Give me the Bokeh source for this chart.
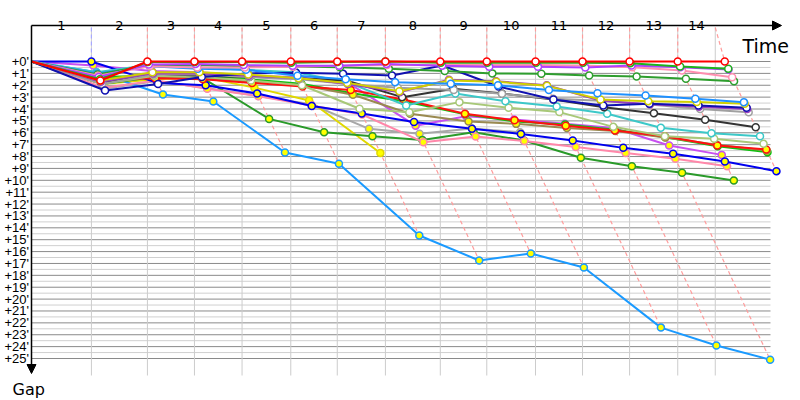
from bokeh.plotting import figure
from bokeh.models import Range1d, Arrow, NormalHead
from bokeh.embed import file_html
from bokeh.resources import INLINE
from bokeh.core.properties import value

# ---------------- data ----------------
lap_names = ["1", "2", "3", "4", "5", "6", "7", "8", "9", "10", "11", "12", "13", "14"]
# leader's cumulative time at end of each lap (minutes)
leader_time = [10.7, 20.7, 29.1, 37.6, 46.3, 54.6, 63.2, 73.0, 81.3, 90.0, 98.4, 106.8, 115.4, 123.8]
# vertical grid / lap boundary ticks (minutes)
lap_ticks = [10.7, 20.7, 29.1, 37.6, 46.3, 54.6, 63.2, 73.0, 81.3, 90.0, 98.4, 106.8, 115.4, 122.1]
gap_ticks = list(range(0, 26))
gap_labels = ["+%d'" % g for g in gap_ticks]

# gap to leader (minutes) at the end of each lap
red_gaps = [1.6, 0, 0, 0, 0, 0, 0, 0, 0, 0, 0, 0, 0, 0]
green1_gaps = [1.5, 0.05, 0.05, 0.05, 0.1, 0.05, 0.0, 0.1, 0.1, 0.1, 0.1, 0.14, 0.42, 0.62]
violet_gaps = [1.3, 0.25, 0.2, 0.3, 0.35, 0.35, 0.2, 0.35, 0.45, 0.45, 0.5, 0.34, 0.48, 0.67]
pink_gaps = [1.2, 0.4, 0.5, 0.5, 0.45, 0.35, 0.3, 0.3, 0.3, 0.3, 0.34, 0.48, 0.76, 1.32]
green2_gaps = [1.1, 0.3, 0.3, 0.4, 0.42, 0.48, 0.62, 0.8, 1.0, 1.04, 1.18, 1.26, 1.46, 1.66]
dodger_gaps = [1.0, 0.4, 0.6, 0.7, 1.2, 1.5, 1.74, 1.88, 2.0, 2.4, 2.67, 2.86, 3.14, 3.42]
khaki_gaps = [1.6, 0.9, 0.9, 1.1, 1.4, 1.8, 2.5, 1.6, 1.7, 2.05, 3.2, 3.34, 3.4, 3.56]
navy_gaps = [2.44, 1.9, 1.3, 1.0, 0.95, 1.04, 1.18, 0.34, 2.1, 3.2, 3.7, 3.55, 3.7, 3.9]
purple_gaps = [1.7, 1.0, 1.0, 1.2, 1.4, 1.9, 2.58, 1.54, 1.66, 2.0, 3.3, 3.6, 3.8, 4.0]
gray_gaps = [1.9, 1.1, 1.1, 1.3, 1.5, 1.9, 2.2, 2.4, 2.72, 3.14, 3.3, 3.62, 4.0, 4.27]
black_gaps = [1.8, 1.0, 1.2, 1.3, 1.4, 1.6, 3.0, 2.3, 2.7, 3.2, 3.85, 4.35, 4.9, 5.53]
cyan_gaps = [0.9, 0.3, 0.5, 0.7, 0.9, 1.74, 3.7, 2.7, 3.34, 3.79, 4.4, 5.58, 6.03, 6.29]
lightgreen_gaps = [1.9, 1.2, 1.3, 1.6, 2.0, 3.98, 4.27, 3.42, 3.9, 4.26, 5.5, 6.3, 6.5, 6.93]
red2_gaps = [1.5, 1.4, 1.5, 1.8, 2.1, 2.4, 3.2, 4.4, 4.95, 5.4, 5.8, 6.3, 7.07, 7.4]
olive_gaps = [1.8, 1.3, 1.4, 1.7, 2.0, 2.8, 4.4, 5.05, 5.25, 5.6, 5.85, 6.4, 7.0, 7.5]
green3_gaps = [1.3, 1.2, 1.2, 1.5, 1.88, 2.67, 3.34, 4.45, 5.05, 5.3, 5.75, 6.37, 7.13, 7.63]
blue_gaps = [0.0, 1.8, 2.0, 2.7, 3.75, 4.38, 5.1, 5.67, 6.1, 6.65, 7.27, 7.77, 8.42, 9.23]
magenta_gaps = [0.34, 0.8, 0.9, 1.18, 1.32, 1.74, 5.4, 4.6, 4.88, 5.25, 5.6, 7.07, 7.86]
pink2_gaps = [2.2, 1.6, 2.3, 2.92, 3.7, 4.46, 6.79, 6.31, 6.7, 7.2, 7.7, 8.19, 8.81]
green4_gaps = [1.9, 1.3, 1.35, 4.83, 5.95, 6.29, 6.6, 5.95, 6.65, 8.1, 8.81, 9.37, 10.02]
slowblue_gaps = [0.9, 2.78, 3.37, 7.66, 8.6, 14.65, 16.75, 16.16, 17.34, 22.4, 23.9, 25.1]
gold_gaps = [1.9, 1.5, 1.3, 2.2, 3.28, 7.7]
gray2_gaps = [2.3, 1.65, 2.25, 2.9, 3.6, 5.67, 6.09, 5.64, 5.95]

series_colors = ["#ff0000", "#1db31d", "#b040ff", "#ff8fb0", "#2e9e2e", "#1e90ff",
                 "#d0d000", "#1010b0", "#9a3fc0", "#a0a0a0", "#333333", "#3cc8c8",
                 "#a8c878", "#ff1010", "#9a8a50", "#10c010", "#0000ee", "#c850f0",
                 "#ff88aa", "#2a9a2a", "#1a9aff", "#e0d800", "#a8a8a8"]
series_fills = ["white"] * 13 + ["#ffff00"] * 10
series_gaps = [red_gaps, green1_gaps, violet_gaps, pink_gaps, green2_gaps, dodger_gaps,
               khaki_gaps, navy_gaps, purple_gaps, gray_gaps, black_gaps, cyan_gaps,
               lightgreen_gaps, red2_gaps, olive_gaps, green3_gaps, blue_gaps, magenta_gaps,
               pink2_gaps, green4_gaps, slowblue_gaps, gold_gaps, gray2_gaps]
dash_colors = ["#a8a8ff"] + ["#ff9c9c"] * 13

# ---------------- layout (pixel scale) ----------------
PX_T = 5.6      # px per minute horizontally
PX_G = 11.88    # px per minute vertically
OX, OY = 31.0, 61.0   # canvas position of origin
W, H = 800, 400


def gx(px):
    return (px - OX) / PX_T


def gy(py):
    return (py - OY) / PX_G


p = figure(width=W, height=H, output_backend="svg", toolbar_location=None,
           x_range=Range1d(gx(0), gx(W)), y_range=Range1d(gy(H), gy(0)),
           x_axis_type=None, y_axis_type=None, min_border=0)
p.grid.visible = False
p.outline_line_color = None
p.background_fill_color = "white"
p.border_fill_color = "white"

g_top = gy(27)
g_bottom = gy(375)
t_right = gx(770)

# horizontal grid: half minutes light, full minutes dark
p.multi_line(xs=[[0, t_right] for g in gap_ticks[:-1]],
             ys=[[g + 0.5, g + 0.5] for g in gap_ticks[:-1]],
             line_color="#d0d0d0", line_width=1)
p.multi_line(xs=[[0, t_right] for g in gap_ticks],
             ys=[[g, g] for g in gap_ticks],
             line_color="#8a8a8a", line_width=1)
# vertical lap grid
p.multi_line(xs=[[t, t] for t in lap_ticks], ys=[[g_top, g_bottom] for t in lap_ticks],
             line_color="#cccccc", line_width=1)

# lap isochrone dashed lines
for k in range(len(lap_ticks)):
    gmax = max(s[k] for s in series_gaps if len(s) > k)
    p.line([lap_ticks[k], leader_time[k], leader_time[k] + gmax], [g_top, 0, gmax],
           line_color=dash_colors[k], line_dash="4 3", line_width=1.2, line_alpha=1.0)

# axes with arrows
p.add_layout(Arrow(end=NormalHead(size=9, fill_color="black", line_color="black"),
                   x_start=0, y_start=gy(25), x_end=gx(781), y_end=gy(25),
                   line_color="black", line_width=1.5))
p.add_layout(Arrow(end=NormalHead(size=9, fill_color="black", line_color="black"),
                   x_start=0, y_start=gy(25), x_end=0, y_end=gy(373),
                   line_color="black", line_width=1.5))

# series (slowest drawn first, leader on top)
for color, fill, gaps in reversed(list(zip(series_colors, series_fills, series_gaps))):
    xs = [0.0] + [leader_time[i] + g for i, g in enumerate(gaps)]
    ys = [0.0] + list(gaps)
    p.line(xs, ys, line_color=color, line_width=2)
    p.scatter(xs[1:], ys[1:], marker="circle", size=7, fill_color=fill,
              line_color=color, line_width=1.5)

# lap labels (centred between lap boundaries)
bounds = [0.0] + lap_ticks
p.text(x=[(bounds[i] + bounds[i + 1]) / 2 for i in range(len(lap_names))],
       y=[gy(25)] * len(lap_names), text=lap_names,
       text_font=value("DejaVu Sans"), text_font_size="13px", text_color="black",
       text_align="center", text_baseline="alphabetic")

# gap labels
p.text(x=[gx(28.5)] * len(gap_ticks), y=gap_ticks, text=gap_labels,
       text_font=value("Liberation Sans"), text_font_size="13px", text_color="black",
       text_align="right", text_baseline="middle")

p.text(x=[gx(742)], y=[gy(45)], text=["Time"], text_font=value("DejaVu Sans"),
       text_font_size="19px", text_color="black", text_align="left",
       text_baseline="alphabetic")
p.text(x=[gx(12)], y=[gy(389)], text=["Gap"], text_font=value("DejaVu Sans"),
       text_font_size="16px", text_color="black", text_align="left",
       text_baseline="alphabetic")

open("out.html", "w").write(file_html(p, INLINE))
